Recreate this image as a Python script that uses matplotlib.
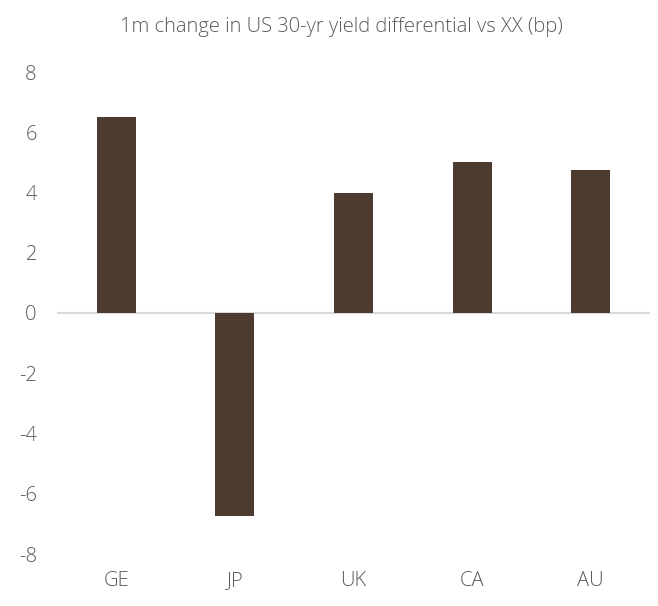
import matplotlib
matplotlib.use("Agg")
import matplotlib.pyplot as plt

categories = ["GE", "JP", "UK", "CA", "AU"]
values = [6.5, -6.75, 4.0, 5.0, 4.75]
yticks = [-8, -6, -4, -2, 0, 2, 4, 6, 8]
title = "1m change in US 30-yr yield differential vs XX (bp)"

plt.rcParams['font.family'] = ['Open Sans', 'DejaVu Sans']

fig = plt.figure(figsize=(6.58, 6.06), dpi=100)
ax = fig.add_axes([57/658, 52/606, (650-57)/658, (554-72)/606])

x = list(range(len(categories)))
ax.bar(x, values, width=0.33, color="#4E3B30", zorder=2)
ax.axhline(0, color="#D9D9D9", linewidth=1.5, zorder=1)

ax.set_xlim(-0.5, len(categories) - 0.5)
ax.set_ylim(-8, 8)
ax.set_yticks(yticks)
ax.set_yticklabels([str(t) for t in yticks])
ax.set_xticks(x)
ax.set_xticklabels(categories)
for s in ax.spines.values():
    s.set_visible(False)
ax.tick_params(axis='y', length=0, pad=14.5, labelsize=14.5, labelcolor="#595959")
ax.tick_params(axis='x', length=0, pad=12, labelsize=14.5, labelcolor="#595959")
for lbl in ax.get_xticklabels() + ax.get_yticklabels():
    lbl.set_fontweight('light')

fig.text(341/658, 1 - 27/606, title, ha='center', va='center',
         fontsize=14.5, color="#595959", fontweight='light')

fig.savefig("out.png", dpi=100)
